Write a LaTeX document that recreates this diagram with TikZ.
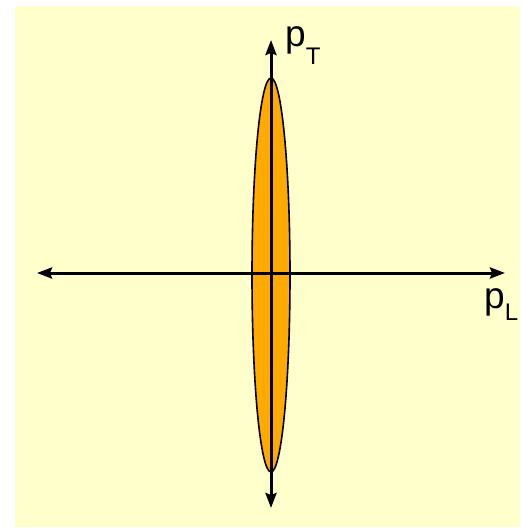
\documentclass[tikz,border=0pt]{standalone}
\usepackage{fontspec}
\setmainfont{Liberation Sans}
\usetikzlibrary{arrows.meta}
\definecolor{paper}{RGB}{255,255,204}
\definecolor{beam}{RGB}{255,170,0}
\tikzset{
  axis/.style={{Stealth[length=15pt,width=11pt,inset=2pt]}-{Stealth[length=15pt,width=11pt,inset=2pt]}, line width=3pt, draw=black},
  bunch/.style={draw=black, fill=beam, line width=1.6pt},
  lbl/.style={inner sep=0pt, anchor=base west, font=\fontsize{37}{37}\selectfont}
}
\newcommand{\mom}[2]{p\raisebox{-#2pt}{\fontsize{24}{24}\selectfont #1}}

\begin{document}
\begin{tikzpicture}[x=1pt, y=-1pt]
  \useasboundingbox (0,0) rectangle (520,528);
  \fill[paper] (15,6) rectangle (520,527);
  % momentum ellipse
  \draw[bunch] (271,275) ellipse [x radius=19, y radius=197];
  % axes
  \coordinate (top) at (271,40);
  \coordinate (bottom) at (271,508);
  \coordinate (left) at (37,273);
  \coordinate (right) at (505,273);
  \draw[axis] (bottom) -- (top);
  \draw[axis] (left) -- (right);
  \node[lbl] (pt) at (285,46) {\mom{T}{18}};
  \node[lbl] (pl) at (484,308) {\mom{L}{12}};
\end{tikzpicture}
\end{document}
